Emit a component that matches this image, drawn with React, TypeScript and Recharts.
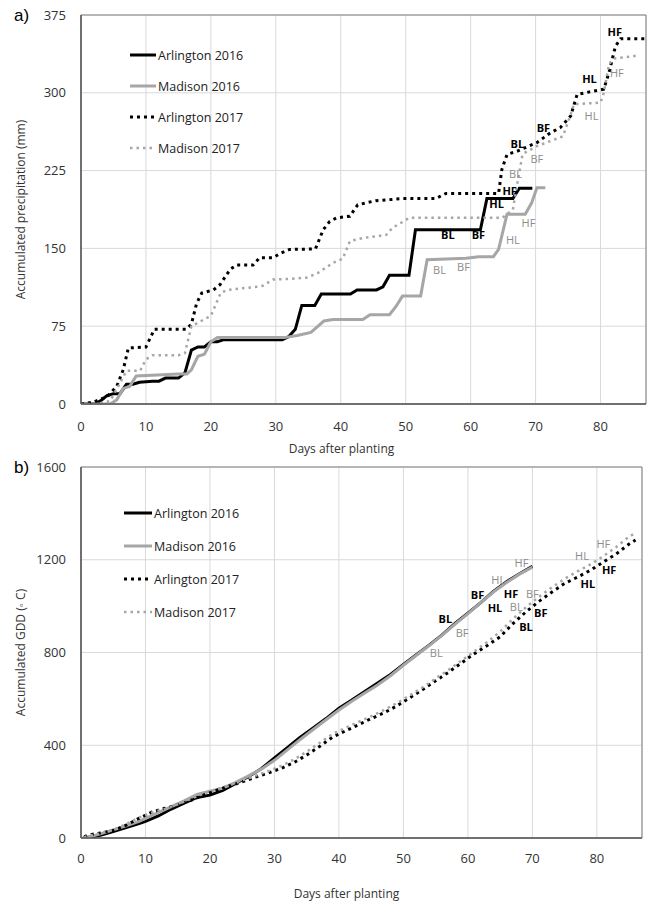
import React from "react";
import { CartesianGrid, Legend, Line, LineChart, ReferenceArea, ReferenceDot, XAxis, YAxis } from "recharts";

const font = "'Open Sans', sans-serif";

const seriesNames = ["Arlington 2016", "Madison 2016", "Arlington 2017", "Madison 2017"];

const dayTicks = [0, 10, 20, 30, 40, 50, 60, 70, 80];
const dayMinorTicks = [0, 5, 10, 15, 20, 25, 30, 35, 40, 45, 50, 55, 60, 65, 70, 75, 80, 85];
const precipTicks = [0, 75, 150, 225, 300, 375];
const precipMinorTicks = [0, 15, 30, 45, 60, 75, 90, 105, 120, 135, 150, 165, 180, 195, 210, 225, 240, 255, 270, 285, 300, 315, 330, 345, 360, 375];
const gddTicks = [0, 400, 800, 1200, 1600];
const gddMinorTicks = [0, 100, 200, 300, 400, 500, 600, 700, 800, 900, 1000, 1100, 1200, 1300, 1400, 1500, 1600];

// accumulated precipitation (mm), [day, value]
const precipArl2016 = [
  [0, 0], [2, 0], [3, 3], [4, 8], [5, 10], [6, 10], [7, 19], [8, 19], [9, 21], [11, 22], [12, 22], [13, 25], [15, 25],
  [16, 30], [17, 52], [18, 55], [19, 55], [20, 60], [21, 60], [22, 62], [31, 62], [32, 65], [33, 72], [34, 95], [36, 95],
  [37, 106], [41.5, 106], [42.5, 110], [45.5, 110], [46.5, 113], [47.5, 124], [50.5, 124], [51.5, 168], [61.5, 168],
  [62.5, 198], [66.5, 198], [67.5, 208], [69.5, 208],
];
const precipMad2016 = [
  [0, 0], [4.5, 0], [5.5, 4], [6.5, 15], [7.5, 17], [8.5, 27], [15, 29], [16.3, 29], [17, 33], [18, 46], [19, 48], [20, 60],
  [21, 64], [31.3, 64], [33.3, 66], [35.4, 69], [37.4, 80], [38.8, 81.5], [43.4, 81.5], [44.5, 86], [47.5, 86], [48.5, 94],
  [49.5, 104], [52.3, 104], [53.3, 139], [59.3, 140.5], [61.2, 142], [63.5, 142], [64.3, 149], [65.6, 183], [68.4, 183],
  [69.4, 194], [70.2, 208.5], [71.5, 208.5],
];
const precipArl2017 = [
  [0, 0], [2, 2], [4, 7], [5.5, 17], [6.5, 33], [7.3, 54], [10, 55], [11.3, 72], [16.2, 72], [17, 77], [17.8, 97], [18.6, 107],
  [20.4, 110], [21.4, 115], [23, 130], [24, 134], [26.5, 134], [27.5, 141], [29.6, 141], [30.6, 145], [32.1, 149], [36.1, 149.5],
  [37.3, 168], [38.3, 176], [39.4, 179.5], [41.4, 181], [42.6, 192], [45.4, 196], [49.5, 198], [54.6, 198], [56.2, 203],
  [64.3, 203], [64.8, 226], [65.6, 240.6], [67.2, 243.8], [70.2, 252], [72.3, 261.5], [73.8, 266.4], [75.4, 277.6],
  [76.4, 298.5], [80.5, 303.5], [81.3, 319.5], [82.3, 345], [83.1, 352], [86.9, 352],
];
const precipMad2017 = [
  [0, 0], [2.4, 0], [4.5, 3], [6, 20], [7, 32], [9.1, 32], [10, 43], [11, 47], [15, 47], [16, 49], [17, 75], [18.5, 80],
  [20, 85], [21.5, 107], [22.5, 110], [25.6, 112], [27.2, 113], [28, 114], [29.6, 120], [33.3, 121], [34.8, 122], [36.4, 126],
  [38.8, 136], [40.3, 140], [41.4, 157], [43.4, 160], [47, 163], [48, 170], [50.6, 179.5], [64.9, 179.5], [66.5, 187.5],
  [67.2, 213], [68, 241], [70.2, 248.6], [74.2, 258], [75.4, 279], [75.9, 289], [80, 290.5], [80.5, 300], [81.3, 327.5],
  [82, 333], [85.9, 336],
];

// accumulated GDD, [day, value]
const gddArl2016 = [
  [0.3, 0], [1, 2], [3, 12], [5, 28], [7, 45], [9, 62], [10, 72], [12, 95], [14, 125], [16, 150], [18, 175], [20, 185],
  [22, 205], [24, 235], [26, 265], [28, 300], [30, 345], [32, 390], [34, 435], [36, 475], [38, 515], [40, 560], [42, 595],
  [44, 632], [46, 668], [48, 705], [50, 748], [52, 790], [54, 832], [56, 876], [58, 925], [60, 970], [62, 1015], [64, 1065],
  [66, 1105], [68, 1140], [70, 1172],
];
const gddMad2016 = [
  [0.3, 0], [1, 3], [3, 18], [5, 35], [7, 52], [9, 72], [10, 85], [12, 110], [14, 135], [16, 160], [18, 188], [20, 202],
  [22, 215], [24, 240], [26, 268], [28, 298], [30, 335], [32, 380], [34, 425], [36, 468], [38, 510], [40, 552], [42, 590],
  [44, 625], [46, 660], [48, 700], [50, 745], [52, 788], [54, 830], [56, 875], [58, 922], [60, 968], [62, 1015], [64, 1062],
  [66, 1102], [68, 1138], [70, 1168],
];
const gddArl2017 = [
  [0.5, 5], [1, 12], [3, 22], [5, 32], [7, 55], [9, 85], [11, 112], [13, 128], [15, 142], [17, 162], [19, 185], [21, 205],
  [23, 225], [25, 242], [27, 262], [29, 280], [31, 300], [33, 325], [35, 358], [37, 395], [39, 435], [41, 462], [43, 488],
  [45, 515], [47, 540], [49, 570], [51, 605], [53, 640], [55, 678], [57, 715], [59, 755], [61, 795], [63, 830], [65, 868],
  [67, 925], [69, 975], [71, 1020], [73, 1060], [75, 1098], [77, 1125], [79, 1155], [81, 1190], [83, 1225], [85, 1268],
  [86, 1285],
];
const gddMad2017 = [
  [0.5, 3], [1, 8], [3, 20], [5, 35], [7, 60], [9, 88], [11, 110], [13, 125], [15, 145], [17, 168], [19, 192], [21, 210],
  [23, 228], [25, 248], [27, 268], [29, 288], [31, 310], [33, 338], [35, 372], [37, 410], [39, 448], [41, 475], [43, 500],
  [45, 525], [47, 552], [49, 582], [51, 615], [53, 650], [55, 688], [57, 725], [59, 765], [61, 805], [63, 845], [65, 890],
  [67, 945], [69, 995], [71, 1040], [73, 1080], [75, 1118], [77, 1150], [79, 1180], [81, 1215], [83, 1255], [85, 1300],
  [86, 1315],
];

// growth stage labels [text, day, value]
const precipStagesBlack = [
  ["HF", 82.2, 359], ["HL", 78.3, 314], ["BF", 71.2, 266.6], ["BL", 67.2, 251],
  ["HF", 66, 206], ["HL", 64, 193], ["BL", 56.5, 163], ["BF", 61.2, 163],
];
const precipStagesGray = [
  ["HF", 82.5, 319.7], ["HL", 78.6, 278], ["BF", 70.2, 236.6], ["BL", 66.9, 222],
  ["HF", 68.9, 175], ["HL", 66.5, 158.6], ["BL", 55.2, 129.6], ["BF", 58.9, 132.5],
];
const gddStagesBlack = [
  ["BF", 61.5, 1051], ["BL", 56.5, 947], ["HF", 66.7, 1055], ["HL", 64.2, 995],
  ["BF", 71.3, 973], ["BL", 69, 913], ["HL", 78.6, 1099], ["HF", 81.9, 1159],
];
const gddStagesGray = [
  ["HF", 68.3, 1189], ["HL", 64.7, 1116], ["BF", 59.1, 887], ["BL", 55.1, 801],
  ["BF", 70, 1055], ["BL", 67.5, 999], ["HL", 77.7, 1220], ["HF", 81, 1271],
];

const lineStyles = [
  { stroke: "#000000", width: 3, dash: undefined },
  { stroke: "#a6a6a6", width: 3, dash: undefined },
  { stroke: "#000000", width: 3, dash: "3 4" },
  { stroke: "#a6a6a6", width: 2.5, dash: "2.5 4" },
];

const axisColor = "#595959";

const toPts = (arr: number[][]) => arr.map(([d, v]) => ({ d, v }));

function LegendBox({ rowH, lineW }: { rowH: number; lineW: number }) {
  return (
    <div style={{ fontFamily: font, fontSize: 12.5, color: "#222" }}>
      {seriesNames.map((n, i) => (
        <div key={n} style={{ display: "flex", alignItems: "center", height: rowH }}>
          <svg width={lineW} height={6}>
            <line x1={0} x2={lineW} y1={3} y2={3} stroke={lineStyles[i].stroke} strokeWidth={lineStyles[i].width} strokeDasharray={lineStyles[i].dash} />
          </svg>
          <span style={{ marginLeft: 2 }}>{n}</span>
        </div>
      ))}
    </div>
  );
}

function StageText(color: string, bold: boolean, text: string) {
  return (p: any) => (
    <text x={p.cx} y={p.cy} textAnchor="middle" dominantBaseline="central" fill={color} fontSize={11} fontWeight={bold ? 700 : 400} fontFamily={font}>
      {text}
    </text>
  );
}

function XTitle(dx: number, up: number) {
  return (p: any) => {
    const vb = p.viewBox;
    return (
      <text x={vb.x + vb.width / 2 + dx} y={vb.y + vb.height - up} textAnchor="middle" dominantBaseline="central" fill="#333" fontSize={12} fontFamily={font}>
        Days after planting
      </text>
    );
  };
}

function YTitle(text: string) {
  return (p: any) => {
    const vb = p.viewBox;
    const cx = 20;
    const cy = vb.y + vb.height / 2;
    return (
      <text x={cx} y={cy} transform={`rotate(-90 ${cx} ${cy})`} textAnchor="middle" dominantBaseline="central" fill="#333" fontSize={12} fontFamily={font}>
        {text}
      </text>
    );
  };
}

function Panel({
  height, marginRight, xAxisHeight, tickMargin, titleUp, titleDx, yTicks, yMinor, yMax, yTitle, series, black, gray, legendTop, legendLeft, rowH, lineW,
}: any) {
  const tickStyle = { fill: "#333", fontSize: 13, fontFamily: font };
  return (
    <LineChart width={647} height={height} margin={{ top: 15, right: marginRight, bottom: 0, left: 0 }}>
      <CartesianGrid stroke="#d9d9d9" />
      <ReferenceArea x1={0} x2={87} y1={0} y2={yMax} fill="none" stroke="#808080" strokeWidth={1} ifOverflow="visible" />
      <XAxis type="number" dataKey="d" domain={[0, 87]} ticks={dayTicks} interval={0} tickLine={false} tickSize={0} tickMargin={tickMargin}
        height={xAxisHeight} axisLine={{ stroke: axisColor, strokeWidth: 1.5 }} tick={tickStyle} allowDataOverflow label={XTitle(titleDx, titleUp)} />
      <XAxis xAxisId="minor" type="number" domain={[0, 87]} ticks={dayMinorTicks} interval={0} mirror tick={false} tickSize={4}
        tickLine={{ stroke: axisColor, strokeWidth: 1.2 }} axisLine={false} allowDataOverflow />
      <YAxis type="number" domain={[0, yMax]} ticks={yTicks} interval={0} tickLine={false} tickSize={0} tickMargin={15} width={81}
        axisLine={{ stroke: axisColor, strokeWidth: 1.5 }} tick={tickStyle} allowDataOverflow label={YTitle(yTitle)} />
      <YAxis yAxisId="minor" type="number" domain={[0, yMax]} ticks={yMinor} interval={0} mirror tick={false} tickSize={4}
        tickLine={{ stroke: axisColor, strokeWidth: 1.2 }} axisLine={false} allowDataOverflow />
      {series.map((s: number[][], i: number) => (
        <Line key={seriesNames[i]} name={seriesNames[i]} data={toPts(s)} dataKey="v" type="linear" dot={false} activeDot={false}
          stroke={lineStyles[i].stroke} strokeWidth={lineStyles[i].width} strokeDasharray={lineStyles[i].dash} isAnimationActive={false} />
      ))}
      {gray.map(([t, d, v]: any, i: number) => (
        <ReferenceDot key={"g" + i} x={d} y={v} r={1} shape={StageText("#8c8c8c", false, t)} ifOverflow="visible" />
      ))}
      {black.map(([t, d, v]: any, i: number) => (
        <ReferenceDot key={"b" + i} x={d} y={v} r={1} shape={StageText("#000", true, t)} ifOverflow="visible" />
      ))}
      <Legend layout="vertical" align="center" verticalAlign="middle" content={() => <LegendBox rowH={rowH} lineW={lineW} />}
        wrapperStyle={{ left: legendLeft, top: legendTop, width: 160, height: rowH * 4 }} />
    </LineChart>
  );
}

export default function App() {
  return (
    <div style={{ position: "absolute", left: 0, top: 0, width: 647, height: 902, background: "#fff", fontFamily: font }}>
      <div style={{ position: "absolute", left: 0, top: 0 }}>
        <Panel height={460} marginRight={1} xAxisHeight={56} tickMargin={18} titleUp={12} titleDx={-22}
          yTicks={precipTicks} yMinor={precipMinorTicks} yMax={375} yTitle="Accumulated precipitation (mm)"
          series={[precipArl2016, precipMad2016, precipArl2017, precipMad2017]} black={precipStagesBlack} gray={precipStagesGray}
          legendTop={39.5} legendLeft={130} rowH={31} lineW={26} />
      </div>
      <div style={{ position: "absolute", left: 0, top: 452 }}>
        <Panel height={450} marginRight={5} xAxisHeight={64} tickMargin={16} titleUp={9} titleDx={-15}
          yTicks={gddTicks} yMinor={gddMinorTicks} yMax={1600} yTitle="Accumulated GDD (◦ C)"
          series={[gddArl2016, gddMad2016, gddArl2017, gddMad2017]} black={gddStagesBlack} gray={gddStagesGray}
          legendTop={44.5} legendLeft={124} rowH={33} lineW={28} />
      </div>
      <div style={{ position: "absolute", left: 14, top: 6, fontFamily: "'Liberation Sans', Arial, sans-serif", fontSize: 17, lineHeight: "20px" }}>a)</div>
      <div style={{ position: "absolute", left: 14, top: 458, fontFamily: "'Liberation Sans', Arial, sans-serif", fontSize: 17, lineHeight: "20px" }}>b)</div>
    </div>
  );
}
